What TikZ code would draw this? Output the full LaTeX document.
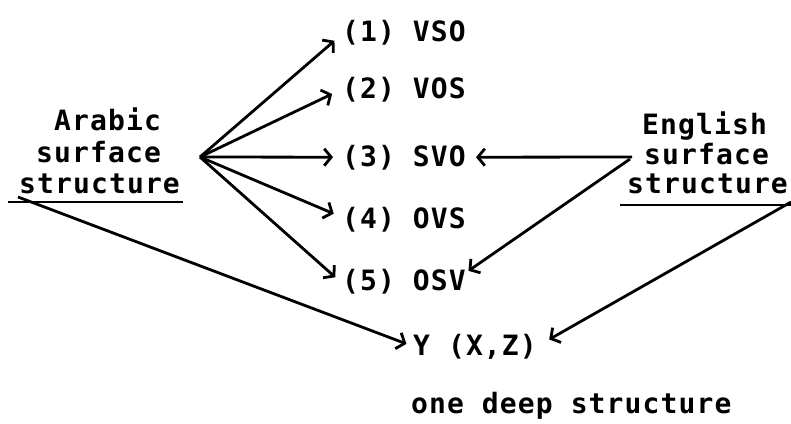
\documentclass[tikz,border=0pt]{standalone}
\usepackage{fontspec}
\setmonofont{DejaVu Sans Mono}
\usetikzlibrary{arrows.meta}
\begin{document}
\begin{tikzpicture}[x=1pt,y=-1pt,
  lbl/.style={font=\ttfamily\bfseries\fontsize{28}{28}\selectfont\addfontfeatures{LetterSpace=4}, inner sep=0pt, anchor=base west},
  arr/.style={line width=2.8pt, -{Straight Barb[length=7pt,width=17pt]}},
  ln/.style={line width=2.8pt}]
\useasboundingbox (0,0) rectangle (791,423);
% rows
\node[lbl] (r1) at (342,41) {(1) VSO};
\node[lbl] (r2) at (342,98) {(2) VOS};
\node[lbl] (r3) at (342,166) {(3) SVO};
\node[lbl] (r4) at (342,228) {(4) OVS};
\node[lbl] (r5) at (342,290) {(5) OSV};
\node[lbl] (y) at (413,355) {Y (X,Z)};
\node[lbl] (deep) at (411,413) {one deep structure};
% Arabic block
\node[lbl] (ar1) at (54,130) {Arabic};
\node[lbl] (ar2) at (36,162) {surface};
\node[lbl] (ar3) at (19,193) {structure};
\coordinate (arL) at (8,202);
\coordinate (arR) at (183,202);
\coordinate (apex) at (200,157);
% English block
\node[lbl] (en1) at (642,134) {English};
\node[lbl] (en2) at (644,164) {surface};
\node[lbl] (en3) at (627,193) {structure};
\coordinate (enL) at (620,205);
\coordinate (enR) at (791,205);
\coordinate (es) at (632,157);
\coordinate (es2) at (630,159);
% underlines
\draw[ln] (arL) -- (arR);
\draw[ln] (enL) -- (enR);
% Arabic arrows
\draw[arr, shorten >=10pt] (apex) -- ([yshift=-2pt]r1.west);
\draw[arr, shorten >=11pt] (apex) -- (r2.west);
\draw[arr, shorten >=9pt] (apex) -- (r3.west);
\draw[arr, shorten >=9pt] (apex) -- ([yshift=2pt]r4.west);
\draw[arr, shorten >=9pt] (apex) -- ([yshift=-2pt]r5.west);
\draw[arr, shorten >=7pt] ([yshift=5pt,xshift=10pt]arL) -- (y.west);
% English arrows
\draw[arr, shorten >=10pt] (es) -- (r3.east);
\draw[arr, shorten >=3pt] (es2) -- ([yshift=-4pt]r5.north east);
\draw[arr, shorten >=14pt] ([yshift=3pt]enR) -- (y.east);
\end{tikzpicture}
\end{document}
